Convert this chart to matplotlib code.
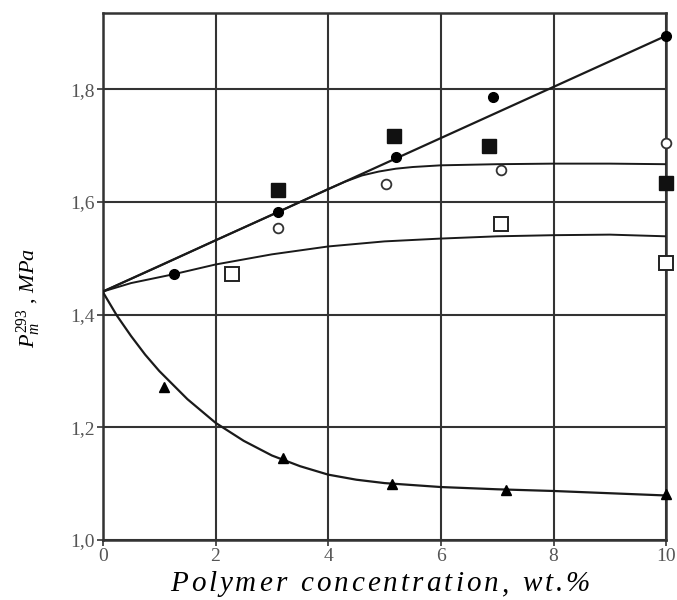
import matplotlib
matplotlib.use("Agg")
import matplotlib.pyplot as plt

# measured points
fc_x = [1.27, 3.11, 5.2, 6.92, 10.0]          # filled circles
fc_y = [1.472, 1.583, 1.680, 1.786, 1.895]
fs_x = [3.10, 5.16, 6.85, 10.0]               # filled squares
fs_y = [1.621, 1.717, 1.699, 1.634]
oc_x = [3.11, 5.02, 7.07, 10.0]               # open circles
oc_y = [1.554, 1.631, 1.657, 1.704]
os_x = [2.30, 7.07, 10.0]                     # open squares
os_y = [1.472, 1.561, 1.491]
tr_x = [1.09, 3.19, 5.13, 7.16, 10.0]         # triangles
tr_y = [1.272, 1.145, 1.099, 1.088, 1.081]

# fitted curves
line1_x = [0, 10]
line1_y = [1.441, 1.895]
curve2_x = [0, 1, 2, 3, 4, 4.3, 4.6, 4.9, 5.2, 5.5, 6, 7, 8, 9, 10]
curve2_y = [1.441, 1.486, 1.532, 1.577, 1.623, 1.636, 1.647, 1.654, 1.659, 1.662, 1.665, 1.667, 1.668, 1.668, 1.667]
curve3_x = [0, 0.5, 1.27, 2, 3, 4, 5, 6, 7, 8, 9, 10]
curve3_y = [1.441, 1.456, 1.472, 1.489, 1.507, 1.521, 1.530, 1.535, 1.539, 1.541, 1.542, 1.539]
curve4_x = [0, 0.25, 0.5, 0.75, 1, 1.5, 2, 2.5, 3, 3.5, 4, 4.5, 5, 6, 7, 8, 9, 10]
curve4_y = [1.440, 1.398, 1.362, 1.329, 1.300, 1.250, 1.208, 1.176, 1.150, 1.131, 1.116, 1.107, 1.101, 1.094, 1.090, 1.087, 1.083, 1.079]

xticks = [0, 2, 4, 6, 8, 10]
yticks = [1.0, 1.2, 1.4, 1.6, 1.8]
yticklabels = ["1,0", "1,2", "1,4", "1,6", "1,8"]
xlabel = "Polymer concentration, wt.%"

plt.rcParams['font.family'] = ['Liberation Serif', 'DejaVu Serif']
plt.rcParams['mathtext.fontset'] = 'custom'
plt.rcParams['mathtext.rm'] = 'Liberation Serif'
plt.rcParams['mathtext.it'] = 'Liberation Serif:italic'

W, H = 677, 600
fig = plt.figure(figsize=(W / 100, H / 100), dpi=100)
ax = fig.add_axes([0.152, 0.1, 0.832, 0.878])

lc = '#1a1a1a'
ax.plot(line1_x, line1_y, color=lc, lw=1.6, zorder=3)
ax.plot(curve2_x, curve2_y, color=lc, lw=1.4, zorder=3)
ax.plot(curve3_x, curve3_y, color=lc, lw=1.4, zorder=3)
ax.plot(curve4_x, curve4_y, color=lc, lw=1.6, zorder=3)

kw = dict(linestyle='none', clip_on=False, zorder=4)
ax.plot(fc_x, fc_y, marker='o', ms=7, mfc='black', mec='black', **kw)
ax.plot(fs_x, fs_y, marker='s', ms=9.5, mfc='#111111', mec='#111111', **kw)
ax.plot(oc_x, oc_y, marker='o', ms=7, mfc='white', mec='#333333', mew=1.3, **kw)
ax.plot(os_x, os_y, marker='s', ms=9.5, mfc='white', mec='#222222', mew=1.4, **kw)
ax.plot(tr_x, tr_y, marker='^', ms=7, mfc='black', mec='black', **kw)

ax.set_xlim(0, 10)
ax.set_ylim(1.0, 1.935)
ax.set_xticks(xticks)
ax.set_xticklabels([str(v) for v in xticks])
ax.set_yticks(yticks)
ax.set_yticklabels(yticklabels)
ax.grid(True, color='#333333', lw=1.5)
ax.set_axisbelow(True)
for s in ax.spines.values():
    s.set_color('#333333')
    s.set_linewidth(1.8)
ax.tick_params(direction='out', length=4, width=1.2, color='#333333',
               labelsize=14, labelcolor='#555555', pad=2)

# y label
fig.text(0.043, 0.503, r'$P_{m}^{\mathrm{293}}$ , $MPa$', fontsize=16,
         rotation=90, ha='center', va='center')

# x label with a bit of letter spacing, like the original
fsz = 21
renderer = fig.canvas.get_renderer()
widths = []
for c in xlabel:
    if c == ' ':
        widths.append(0.25 * fsz * 100 / 72)
    else:
        t = fig.text(0, 0, c, fontsize=fsz, style='italic')
        widths.append(t.get_window_extent(renderer).width)
        t.remove()
target = 420.0
track = (target - sum(widths)) / (len(xlabel) - 1)
x0 = 380.0 - target / 2
for c, w in zip(xlabel, widths):
    if c != ' ':
        fig.text(x0 / W, 9.0 / H, c, fontsize=fsz, style='italic',
                 ha='left', va='baseline')
    x0 += w + track

fig.savefig('out.png', dpi=100)
